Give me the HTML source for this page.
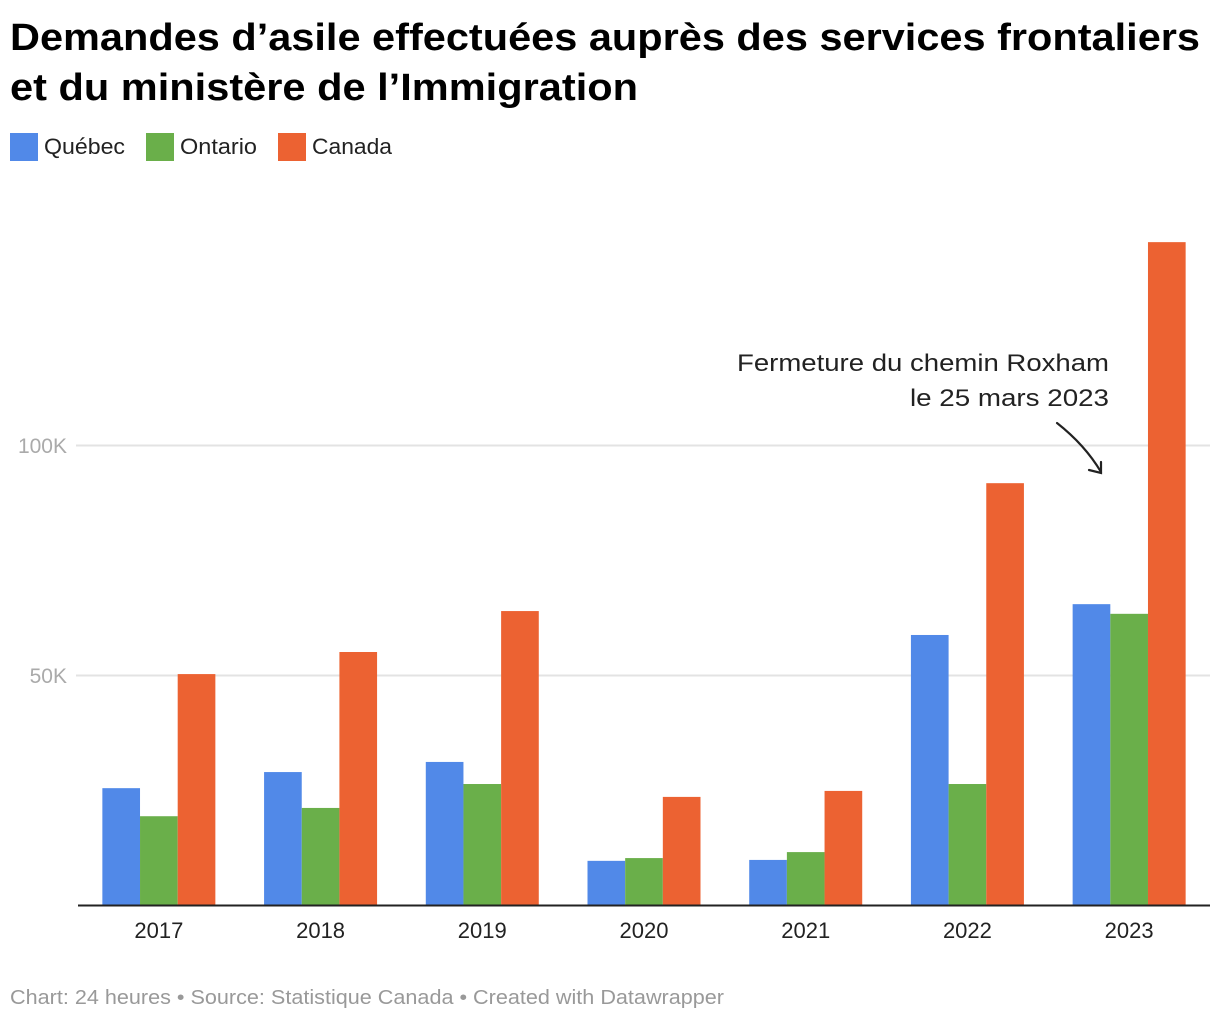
<!DOCTYPE html>
<html><head><meta charset="utf-8"><style>
html,body{margin:0;padding:0;background:#fff;}
svg{display:block;font-family:"Liberation Sans",Arial,sans-serif;}
</style></head><body>
<svg id="chart" width="1220" height="1020" viewBox="0 0 1220 1020">
<text x="10" y="50" font-size="38" font-weight="bold" fill="#000" textLength="1190" lengthAdjust="spacingAndGlyphs">Demandes d’asile effectuées auprès des services frontaliers</text>
<text x="10" y="100" font-size="38" font-weight="bold" fill="#000" textLength="628" lengthAdjust="spacingAndGlyphs">et du ministère de l’Immigration</text>
<g>
<rect x="10" y="133" width="28" height="28" fill="#5189e8"/>
<text x="44" y="154" font-size="22" fill="#222" textLength="81" lengthAdjust="spacingAndGlyphs">Québec</text>
<rect x="146" y="133" width="28" height="28" fill="#6aaf4a"/>
<text x="180" y="154" font-size="22" fill="#222" textLength="77" lengthAdjust="spacingAndGlyphs">Ontario</text>
<rect x="278" y="133" width="28" height="28" fill="#ec6232"/>
<text x="312" y="154" font-size="22" fill="#222" textLength="80" lengthAdjust="spacingAndGlyphs">Canada</text>
</g>
<g id="grid"></g>
<g id="bars"></g>
<g id="xlabels"></g>
<line x1="78" y1="905.5" x2="1210" y2="905.5" stroke="#222" stroke-width="2"/>
<text x="1109" y="371" font-size="24" fill="#222" text-anchor="end" textLength="372" lengthAdjust="spacingAndGlyphs">Fermeture du chemin Roxham</text>
<text x="1109" y="406" font-size="24" fill="#222" text-anchor="end" textLength="199" lengthAdjust="spacingAndGlyphs">le 25 mars 2023</text>
<g fill="none" stroke="#222" stroke-width="2.2" stroke-linecap="round">
<path d="M1057,423 Q1085,445 1101,472"/>
<path d="M1089,470 L1101,473 L1101,462"/>
</g>
<text x="10" y="1004" font-size="20" fill="#999" textLength="714" lengthAdjust="spacingAndGlyphs">Chart: 24 heures • Source: Statistique Canada • Created with Datawrapper</text>
</svg>
<script>
const years = ["2017","2018","2019","2020","2021","2022","2023"];
const quebec = [25.4, 28.9, 31.1, 9.6, 9.8, 58.7, 65.4];
const ontario = [19.3, 21.1, 26.3, 10.2, 11.5, 26.3, 63.3];
const canada = [50.2, 55.0, 63.9, 23.5, 24.8, 91.7, 144.1];
const yTicks = [50, 100];
const yTickLabels = ["50K", "100K"];

const NS = "http://www.w3.org/2000/svg";
const plotL = 78, plotR = 1210, base = 905, pxPerK = 4.6;
const band = (plotR - plotL) / years.length;
const groupW = 113, barW = groupW / 3;
function y(v){ return base - v * pxPerK; }
function xCenter(i){ return plotL + band * (i + 0.5); }
function mk(tag, attrs, parent){ const e = document.createElementNS(NS, tag); for (const k in attrs) e.setAttribute(k, attrs[k]); parent.appendChild(e); return e; }

const grid = document.getElementById("grid");
yTicks.forEach((t, i) => {
  const l = mk("line", {x1: 76, x2: plotR, y1: y(t) + 0.5, y2: y(t) + 0.5, stroke: "#e3e3e3", "stroke-width": 2}, grid);
  
  
  const tx = mk("text", {x: 67, y: y(t) + 8, "font-size": 21, fill: "#aaa", "text-anchor": "end"}, grid);
  tx.textContent = yTickLabels[i];
  
  
});

const bars = document.getElementById("bars");
const xl = document.getElementById("xlabels");
const series = [[quebec, "#5189e8", "quebec"], [ontario, "#6aaf4a", "ontario"], [canada, "#ec6232", "canada"]];
years.forEach((yr, i) => {
  const x0 = xCenter(i) - groupW / 2;
  series.forEach((s, j) => {
    const v = s[0][i];
    const r = mk("rect", {x: x0 + j * barW, y: y(v), width: barW, height: base - y(v), fill: s[1]}, bars);
    
    
  });
  const t = mk("text", {x: xCenter(i), y: 938, "font-size": 22, fill: "#222", "text-anchor": "middle"}, xl);
  t.textContent = yr;
  
  
});
</script>
</body></html>
